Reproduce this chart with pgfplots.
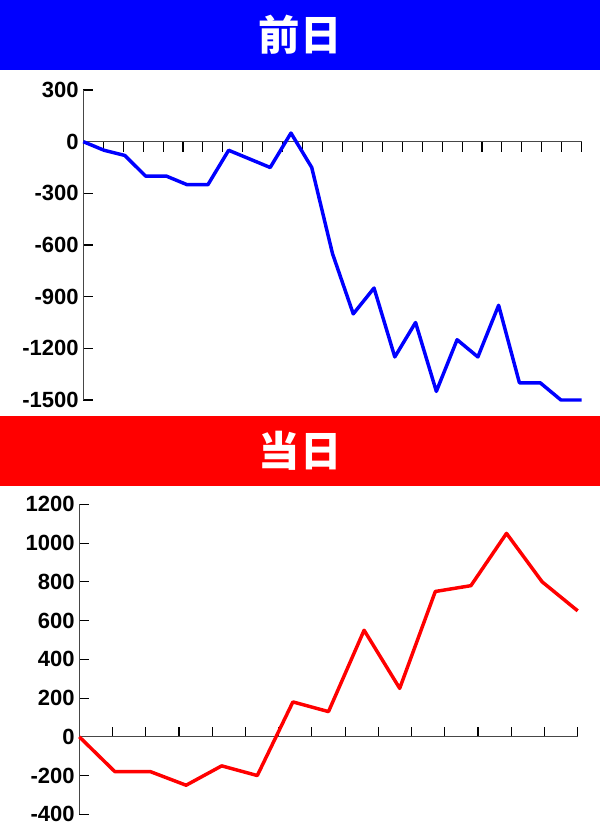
\documentclass[border=0pt]{standalone}
\usepackage{fontspec}
\setmainfont{Liberation Sans}
\newfontfamily\cjk{Noto Sans CJK JP}
\usepackage{pgfplots}
\pgfplotsset{compat=1.18}
\definecolor{bannerblue}{RGB}{0,0,255}
\definecolor{bannerred}{RGB}{255,0,0}
\definecolor{axgray}{RGB}{70,70,70}
\pgfplotsset{
  myaxis/.style={
    scale only axis, anchor=south west,
    width=373.8pt, height=232.5pt,
    axis x line=middle, axis y line=left,
    axis line style={-, draw=axgray, line width=0.8pt},
    major tick length=7.5pt,
    every tick/.style={draw=black, line width=0.8pt},
    xticklabels={},
    yticklabel style={font=\bfseries\fontsize{16.5}{16.5}\selectfont, text=black},
    clip=false,
  }
}
\begin{document}
\begin{tikzpicture}[x=0.75pt,y=0.75pt]
\path[use as bounding box] (0,0) rectangle (600,828);
\fill[bannerblue] (0,758) rectangle (600,828);
\node[text=white,font=\cjk\bfseries\fontsize{31}{31}\selectfont] at (300,793) {前日};
\fill[bannerred] (0,342) rectangle (600,412);
\node[text=white,font=\cjk\bfseries\fontsize{31}{31}\selectfont] at (300,377) {当日};

\begin{axis}[myaxis, at={(62.475pt,321pt)},
  xmin=0, xmax=24, ymin=-1500, ymax=300,
  xtick align=outside, ytick align=inside,
  xtick={0,0.96,1.92,2.88,3.84,4.8,5.76,6.72,7.68,8.64,9.6,10.56,11.52,12.48,13.44,14.4,15.36,16.32,17.28,18.24,19.2,20.16,21.12,22.08,23.04,24},
  ytick={-1500,-1200,-900,-600,-300,0,300},
  yticklabels={-1500,-1200,-900,-600,-300,0,300},
]
\addplot[draw=bannerblue, line width=2.6pt, line join=round] coordinates {
(0,0) (1,-50) (2,-80) (3,-200) (4,-200) (5,-250) (6,-250) (7,-50) (8,-100) (9,-150)
(10,50) (11,-150) (12,-650) (13,-1000) (14,-850) (15,-1250) (16,-1050) (17,-1450)
(18,-1150) (19,-1250) (20,-950) (21,-1400) (22,-1400) (23,-1500) (24,-1500)
};
\end{axis}

\begin{axis}[myaxis, at={(59.475pt,10.275pt)},
  xmin=0, xmax=14, ymin=-400, ymax=1200,
  tick align=inside,
  xtick={0,0.9333,1.8667,2.8,3.7333,4.6667,5.6,6.5333,7.4667,8.4,9.3333,10.2667,11.2,12.1333,13.0667,14},
  ytick={-400,-200,0,200,400,600,800,1000,1200},
  yticklabels={-400,-200,0,200,400,600,800,1000,1200},
]
\addplot[draw=bannerred, line width=2.6pt, line join=round] coordinates {
(0,0) (1,-180) (2,-180) (3,-250) (4,-150) (5,-200) (6,180) (7,130) (8,550) (9,250)
(10,750) (11,780) (12,1050) (13,800) (14,650)
};
\end{axis}
\end{tikzpicture}
\end{document}
